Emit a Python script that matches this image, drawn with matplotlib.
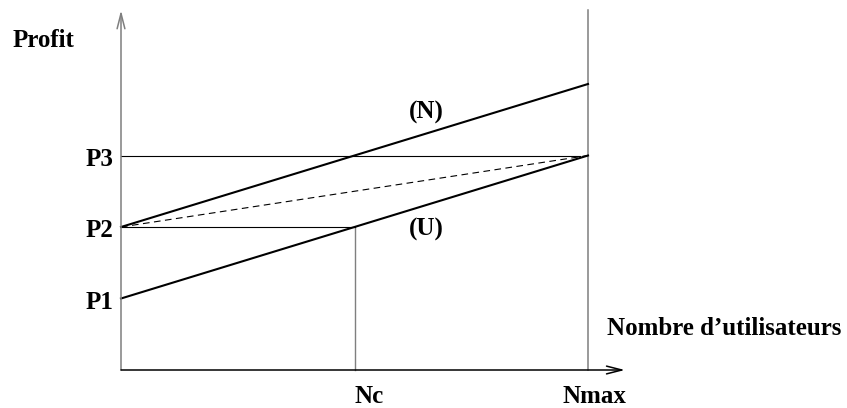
import matplotlib.pyplot as plt

# Abscissa: number of users (Nc, Nmax), ordinate: profit levels
users = [0, 1, 2]             # 0, Nc, Nmax
profit_U = [1, 2, 3]          # line (U): P1 -> P3
profit_N = [2, 3, 4]          # line (N): P2 -> above P3
profit_levels = [1, 2, 3]     # P1, P2, P3
level_labels = ["P1", "P2", "P3"]
x_tick_labels = ["Nc", "Nmax"]
y_axis_top = 5.03

plt.rcParams['font.family'] = ['Liberation Serif', 'DejaVu Serif']
font = dict(fontsize=18, fontweight='bold', color='black')

fig = plt.figure(figsize=(8.47, 4.08), dpi=100)
ax = fig.add_axes([0, 0, 1, 1])
ax.set_xlim(-121 / 233.5, 726 / 233.5)
ax.set_ylim(-38 / 71.5, 370 / 71.5)
ax.axis('off')

Nc, Nmax = users[1], users[2]
P1, P2, P3 = profit_levels

# axes with open arrow heads
ax.annotate('', xy=(0, y_axis_top), xytext=(0, 0),
            arrowprops=dict(arrowstyle='->,head_length=0.55,head_width=0.14',
                            lw=1.1, color='#7f7f7f', shrinkA=0, shrinkB=0,
                            mutation_scale=20))
ax.annotate('', xy=(Nmax + 0.158, 0), xytext=(0, 0),
            arrowprops=dict(arrowstyle='->,head_length=0.55,head_width=0.14',
                            lw=1.1, color='black', shrinkA=0, shrinkB=0,
                            mutation_scale=20))

# vertical guides
ax.plot([Nmax, Nmax], [0, y_axis_top], color='#7f7f7f', lw=1.1)
ax.plot([Nc, Nc], [0, P2], color='#7f7f7f', lw=1.0)

# horizontal guides
ax.plot([0, Nmax - 0.035], [P3, P3], color='black', lw=0.8)
ax.plot([0, Nc], [P2, P2], color='black', lw=0.8)

# dashed line P2 -> (Nmax, P3)
ax.plot([0, Nmax], [P2, P3], color='black', lw=0.8, dashes=(6, 4))

# profit lines
ax.plot(users, profit_U, color='black', lw=1.5)
ax.plot(users, profit_N, color='black', lw=1.5)

# labels
for lvl, lab in zip(profit_levels, level_labels):
    ax.text(-0.034, lvl - 0.14, lab, ha='right', va='baseline', **font)

ax.text(Nc + 0.062, -0.46, x_tick_labels[0], ha='center', va='baseline', **font)
ax.text(Nmax + 0.026, -0.46, x_tick_labels[1], ha='center', va='baseline', **font)

ax.text(-0.4625, 4.517, "Profit", ha='left', va='baseline', **font)
ax.text(2.081, 0.49, "Nombre d\u2019utilisateurs", ha='left', va='baseline', **font)

ax.text(1.306, 3.51, "(N)", ha='center', va='baseline', **font)
ax.text(1.306, 1.874, "(U)", ha='center', va='baseline', **font)

fig.savefig("out.png", dpi=100)
